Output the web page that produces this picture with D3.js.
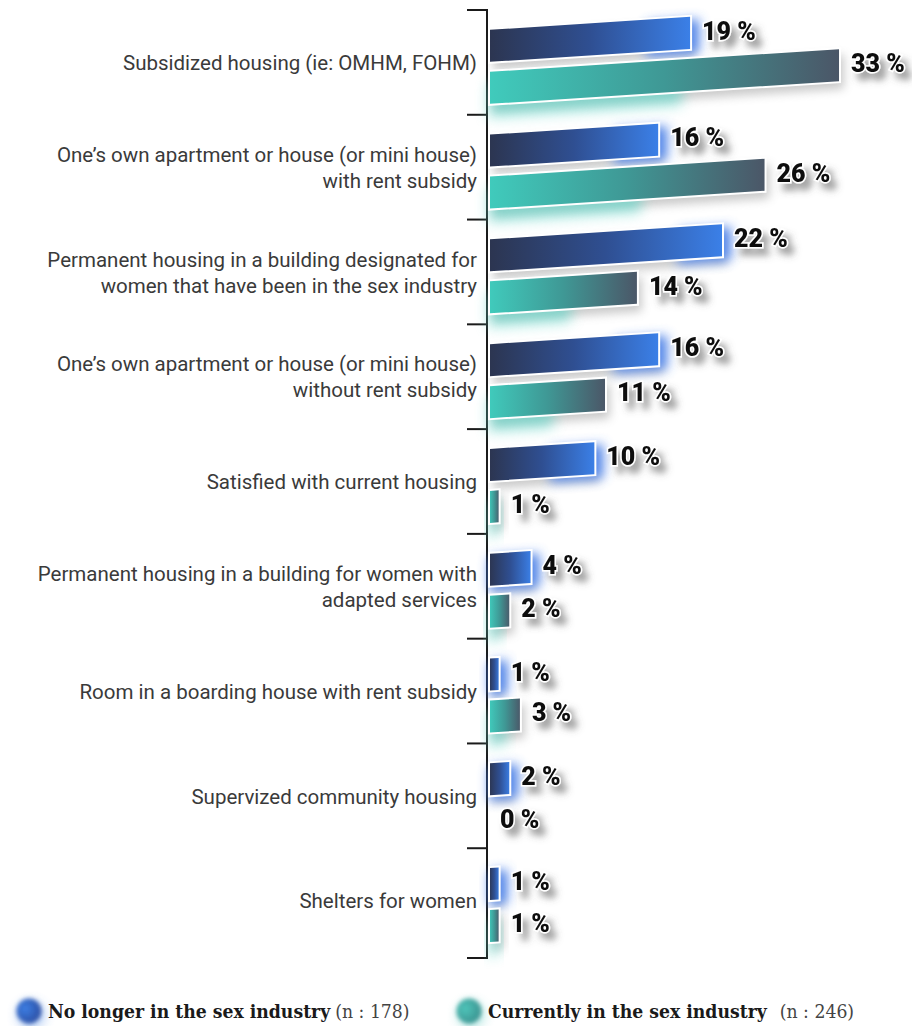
<!DOCTYPE html>
<html>
<head>
<meta charset="utf-8">
<script src="https://cdn.jsdelivr.net/npm/d3@7"></script>
<style>
  html, body { margin: 0; padding: 0; background: #fff; }
  svg { display: block; }
</style>
</head>
<body>
<div id="chart"></div>
<script>
// Housing preferences, share of respondents by group
const categories = [
  ["Subsidized housing (ie: OMHM, FOHM)"],
  ["One\u2019s own apartment or house (or mini house)", "with rent subsidy"],
  ["Permanent housing in a building designated for", "women that have been in the sex industry"],
  ["One\u2019s own apartment or house (or mini house)", "without rent subsidy"],
  ["Satisfied with current housing"],
  ["Permanent housing in a building for women with", "adapted services"],
  ["Room in a boarding house with rent subsidy"],
  ["Supervized community housing"],
  ["Shelters for women"]
];
const noLonger = [19, 16, 22, 16, 10, 4, 1, 2, 1];
const current  = [33, 26, 14, 11, 1, 2, 3, 0, 1];
const seriesKeys = ["noLonger", "current"];
const legendLabels = ["No longer in the sex industry", "Currently in the sex industry"];
const legendCounts = ["(n : 178)", "(n : 246)"];

const W = 912, H = 1026;
const axisX = 487;
const tilt = 3.7;                       // degrees of perspective tilt on the bars
const tiltK = Math.tan(tilt * Math.PI / 180);

const svg = d3.select("#chart").append("svg")
  .attr("width", W).attr("height", H);

const defs = svg.append("defs");

// bar gradients
const gBlue = defs.append("linearGradient").attr("id", "gBlue")
  .attr("x1", "0%").attr("x2", "100%").attr("y1", "0%").attr("y2", "0%");
gBlue.append("stop").attr("offset", "0%").attr("stop-color", "#2c3550");
gBlue.append("stop").attr("offset", "50%").attr("stop-color", "#2f4f92");
gBlue.append("stop").attr("offset", "100%").attr("stop-color", "#3b80e8");

const gTeal = defs.append("linearGradient").attr("id", "gTeal")
  .attr("x1", "0%").attr("x2", "100%").attr("y1", "0%").attr("y2", "0%");
gTeal.append("stop").attr("offset", "0%").attr("stop-color", "#40cbbc");
gTeal.append("stop").attr("offset", "50%").attr("stop-color", "#3f9895");
gTeal.append("stop").attr("offset", "100%").attr("stop-color", "#4b5667");

// glows and shadows
function blurFilter(id, sd) {
  defs.append("filter").attr("id", id)
    .attr("x", "-50%").attr("y", "-100%").attr("width", "200%").attr("height", "300%")
    .append("feGaussianBlur").attr("stdDeviation", sd);
}
blurFilter("glowBlue", 6);
blurFilter("glowTeal", 7);
blurFilter("barShadow", 5);
blurFilter("legBlur", 2.2);

// drop shadow for the value labels
const ds = defs.append("filter").attr("id", "txtShadow")
  .attr("x", "-30%").attr("y", "-60%").attr("width", "170%").attr("height", "240%");
ds.append("feGaussianBlur").attr("in", "SourceAlpha").attr("stdDeviation", 3.5).attr("result", "b");
ds.append("feOffset").attr("in", "b").attr("dx", 6).attr("dy", 7).attr("result", "o");
ds.append("feFlood").attr("flood-color", "#555").attr("flood-opacity", 0.55).attr("result", "c");
ds.append("feComposite").attr("in", "c").attr("in2", "o").attr("operator", "in").attr("result", "s");
const dm = ds.append("feMerge");
dm.append("feMergeNode").attr("in", "s");
dm.append("feMergeNode").attr("in", "SourceGraphic");

// scales
const y = d3.scaleBand()
  .domain(d3.range(categories.length))
  .range([10, 953]);

const ySeries = d3.scaleBand()
  .domain(seriesKeys)
  .range([19, 95])
  .paddingInner(0.19);

const x = d3.scaleLinear().domain([0, 33]).range([axisX + 2, 840]);

// axis: vertical line with ticks at band boundaries
const axisG = svg.append("g");
const boundaries = d3.range(categories.length).map(i => y(i));
boundaries.push(958);
axisG.append("line")
  .attr("x1", axisX).attr("x2", axisX)
  .attr("y1", boundaries[0] - 1).attr("y2", boundaries[boundaries.length - 1] + 1)
  .attr("stroke", "#1a1a1a").attr("stroke-width", 2);
axisG.selectAll("line.tick")
  .data(boundaries)
  .enter().append("line").attr("class", "tick")
  .attr("x1", 467).attr("x2", axisX + 1)
  .attr("y1", d => d).attr("y2", d => d)
  .attr("stroke", "#1a1a1a").attr("stroke-width", 2);

// category labels
const labelG = svg.append("g")
  .attr("font-family", "Roboto, 'Noto Sans', sans-serif")
  .attr("font-size", 20.5)
  .attr("fill", "#3a3a3a")
  .attr("text-anchor", "end");
categories.forEach((lines, i) => {
  const cy = y(i) + y.bandwidth() / 2 + 0.5;
  const t = labelG.append("text").attr("x", 477);
  lines.forEach((ln, j) => {
    t.append("tspan")
      .attr("x", 477)
      .attr("y", cy + (j - (lines.length - 1) / 2) * 26)
      .attr("dy", "0.35em")
      .text(ln);
  });
});

// data rows
const flat = [];
categories.forEach((c, i) => {
  flat.push({ i, key: "noLonger", value: noLonger[i] });
  flat.push({ i, key: "current", value: current[i] });
});
const drawn = flat.filter(d => d.value > 0);

// bars are drawn with a slight perspective tilt anchored at the axis
const barsG = svg.append("g")
  .attr("transform", `translate(${axisX},0) skewY(${-tilt}) translate(${-axisX},0)`);

const barH = ySeries.bandwidth();
const yTop = d => y(d.i) + ySeries(d.key);
const barW = d => x(d.value) - x(0);

// gray drop shadows
barsG.selectAll("rect.shadow")
  .data(drawn).enter().append("rect").attr("class", "shadow")
  .attr("x", d => x(0) + 4).attr("y", d => yTop(d) + 7)
  .attr("width", barW).attr("height", barH)
  .attr("fill", "#8a8a8a").attr("opacity", 0.45)
  .attr("filter", "url(#barShadow)");

// coloured glows: blue at the bar tip, teal under the bar base
barsG.selectAll("rect.glow")
  .data(drawn).enter().append("rect").attr("class", "glow")
  .attr("x", d => d.key === "noLonger" ? x(d.value) - Math.min(45, barW(d)) : x(0))
  .attr("y", d => d.key === "noLonger" ? yTop(d) + 4 : yTop(d) + 12)
  .attr("width", d => d.key === "noLonger" ? Math.min(45, barW(d)) + 8 : Math.max(10, barW(d) * 0.55))
  .attr("height", barH)
  .attr("fill", d => d.key === "noLonger" ? "#3f7df2" : "#5fd6c8")
  .attr("opacity", d => d.key === "noLonger" ? 0.85 : 0.65)
  .attr("filter", d => d.key === "noLonger" ? "url(#glowBlue)" : "url(#glowTeal)");

// bars
barsG.selectAll("rect.bar")
  .data(drawn).enter().append("rect").attr("class", "bar")
  .attr("x", x(0))
  .attr("y", d => yTop(d))
  .attr("width", barW)
  .attr("height", barH)
  .attr("fill", d => d.key === "noLonger" ? "url(#gBlue)" : "url(#gTeal)")
  .attr("stroke", "#ffffff")
  .attr("stroke-width", 2);

// value labels (upright text placed at the tilted bar tips)
const valG = svg.append("g")
  .attr("font-family", "Roboto, 'Noto Sans', sans-serif")
  .attr("font-weight", 900)
  .attr("font-size", 25);

const tipX = d => x(d.value);
const lblX = d => tipX(d) + 11;
const lblY = d => yTop(d) + barH / 2 - tiltK * (tipX(d) - axisX) - 2;

valG.selectAll("text.val")
  .data(flat).enter().append("text").attr("class", "val")
  .attr("x", lblX).attr("y", lblY)
  .attr("dy", "0.35em")
  .attr("fill", "#111")
  .attr("stroke", "#fff").attr("stroke-width", 3).attr("paint-order", "stroke")
  .attr("filter", "url(#txtShadow)")
  .text(d => d.value + " %");

// legend
const legG = svg.append("g");
const legX = [29, 469];
const legColors = [["#2b4b9e", "#3d7fe4"], ["#3a8f8d", "#4fc5ba"]];
legendLabels.forEach((lab, i) => {
  const g = legG.append("g").attr("transform", `translate(${legX[i]},1011)`);
  const gid = "legGrad" + i;
  const lg = defs.append("radialGradient").attr("id", gid).attr("cx", "35%").attr("cy", "40%").attr("r", "70%");
  lg.append("stop").attr("offset", "0%").attr("stop-color", legColors[i][1]);
  lg.append("stop").attr("offset", "100%").attr("stop-color", legColors[i][0]);
  g.append("circle").attr("cx", 2).attr("cy", 4).attr("r", 13)
    .attr("fill", legColors[i][1]).attr("opacity", 0.45).attr("filter", "url(#glowBlue)");
  g.append("circle").attr("r", 12.5).attr("fill", `url(#${gid})`).attr("filter", "url(#legBlur)");
  const t = g.append("text")
    .attr("x", 19).attr("y", 0).attr("dy", "0.35em")
    .attr("font-family", "'DejaVu Serif', serif")
    .attr("font-stretch", "condensed")
    .style("font-stretch", "condensed")
    .attr("font-size", 19.2)
    .attr("fill", "#1a1a1a");
  t.append("tspan").attr("font-weight", 700).text(lab);
  t.append("tspan").attr("font-weight", 400).attr("fill", "#444").attr("dx", i === 1 ? 13 : 5).text(legendCounts[i]);
});
</script>
</body>
</html>
